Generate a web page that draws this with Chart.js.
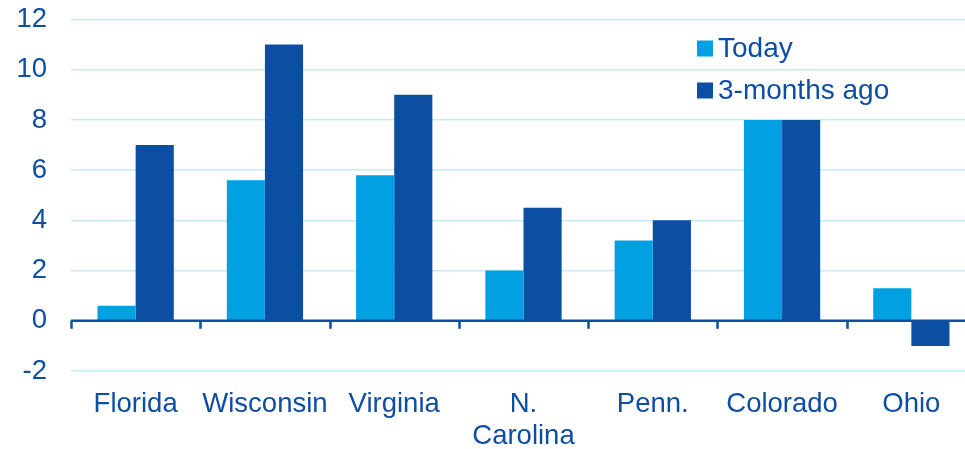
<!DOCTYPE html>
<html>
<head>
<meta charset="utf-8">
<script src="https://cdn.jsdelivr.net/npm/chart.js@4/dist/chart.umd.min.js"></script>
<style>
  html, body { margin: 0; padding: 0; background: #fff; overflow: hidden; width: 965px; height: 449px; }
  #wrap { width: 978px; height: 470px; margin-top: -21px; }
</style>
</head>
<body>
<div id="wrap"><canvas id="c" width="978" height="470"></canvas></div>
<script>
// Job growth by state, today vs. three months ago
const states = ['Florida', 'Wisconsin', 'Virginia', ['N.', 'Carolina'], 'Penn.', 'Colorado', 'Ohio'];
const today = [0.6, 5.6, 5.8, 2.0, 3.2, 8.0, 1.3];
const threeMonthsAgo = [7.0, 11.0, 9.0, 4.5, 4.0, 8.0, -1.0];
const yTicks = [-2, 0, 2, 4, 6, 8, 10, 12];
const seriesNames = ['Today', '3-months ago'];

const LIGHT = '#00A0E3';
const DARK = '#0B4EA2';
const TEXT = '#0D4EA2';
const GRID = '#C8EAF7';
const FONT = '"Liberation Sans", Arial, sans-serif';

// Zero baseline with short category-boundary ticks hanging below it
const zeroAxis = {
  id: 'zeroAxis',
  afterDatasetsDraw(chart) {
    const { ctx, chartArea, scales } = chart;
    const y0 = scales.y.getPixelForValue(0);
    const n = chart.data.labels.length;
    const step = scales.x.width / n;
    ctx.save();
    ctx.strokeStyle = DARK;
    ctx.lineWidth = 2.5;
    ctx.beginPath();
    ctx.moveTo(chartArea.left, y0);
    ctx.lineTo(chartArea.right, y0);
    ctx.stroke();
    for (let i = 0; i <= n; i++) {
      const x = Math.round(scales.x.left + i * step) + 0.5;
      ctx.beginPath();
      ctx.moveTo(x, y0);
      ctx.lineTo(x, y0 + 8);
      ctx.stroke();
    }
    ctx.restore();
  }
};

// Legend drawn inside the plot, upper right
const innerLegend = {
  id: 'innerLegend',
  afterDraw(chart) {
    const { ctx } = chart;
    const top = chart.chartArea.top;
    ctx.save();
    ctx.font = '28px ' + FONT;
    ctx.textBaseline = 'middle';
    chart.data.datasets.forEach((ds, i) => {
      const cy = top + 29 + i * 42;
      ctx.fillStyle = ds.backgroundColor;
      ctx.fillRect(697, cy - 8, 16, 16);
      ctx.fillStyle = TEXT;
      ctx.fillText(ds.label, 718, cy + 1);
    });
    ctx.restore();
  }
};

new Chart(document.getElementById('c'), {
  type: 'bar',
  data: {
    labels: states,
    datasets: [
      { label: seriesNames[0], data: today, backgroundColor: LIGHT },
      { label: seriesNames[1], data: threeMonthsAgo, backgroundColor: DARK }
    ]
  },
  options: {
    responsive: false,
    devicePixelRatio: 1,
    animation: false,
    layout: { padding: { top: 2, left: 17, right: 2, bottom: 0 } },
    datasets: { bar: { barPercentage: 1.0, categoryPercentage: 0.59 } },
    plugins: { legend: { display: false }, tooltip: { enabled: false } },
    scales: {
      x: {
        afterFit(axis) { axis.height = 78; },
        grid: { display: false, drawTicks: false },
        border: { display: false },
        ticks: { color: TEXT, font: { family: FONT, size: 27.5, lineHeight: 1.17 }, padding: 17, maxRotation: 0, autoSkip: false }
      },
      y: {
        min: -2,
        max: 12,
        afterFit(axis) { axis.width = 54; },
        afterBuildTicks(axis) { axis.ticks = yTicks.map(v => ({ value: v })); },
        grid: {
          drawTicks: false,
          lineWidth: 1.5,
          color: ctx => (ctx.tick && ctx.tick.value === 0) ? 'rgba(0,0,0,0)' : GRID
        },
        border: { display: false },
        ticks: { color: TEXT, font: { family: FONT, size: 27.5, lineHeight: 1.2 }, padding: 24 }
      }
    }
  },
  plugins: [zeroAxis, innerLegend]
});
</script>
</body>
</html>
